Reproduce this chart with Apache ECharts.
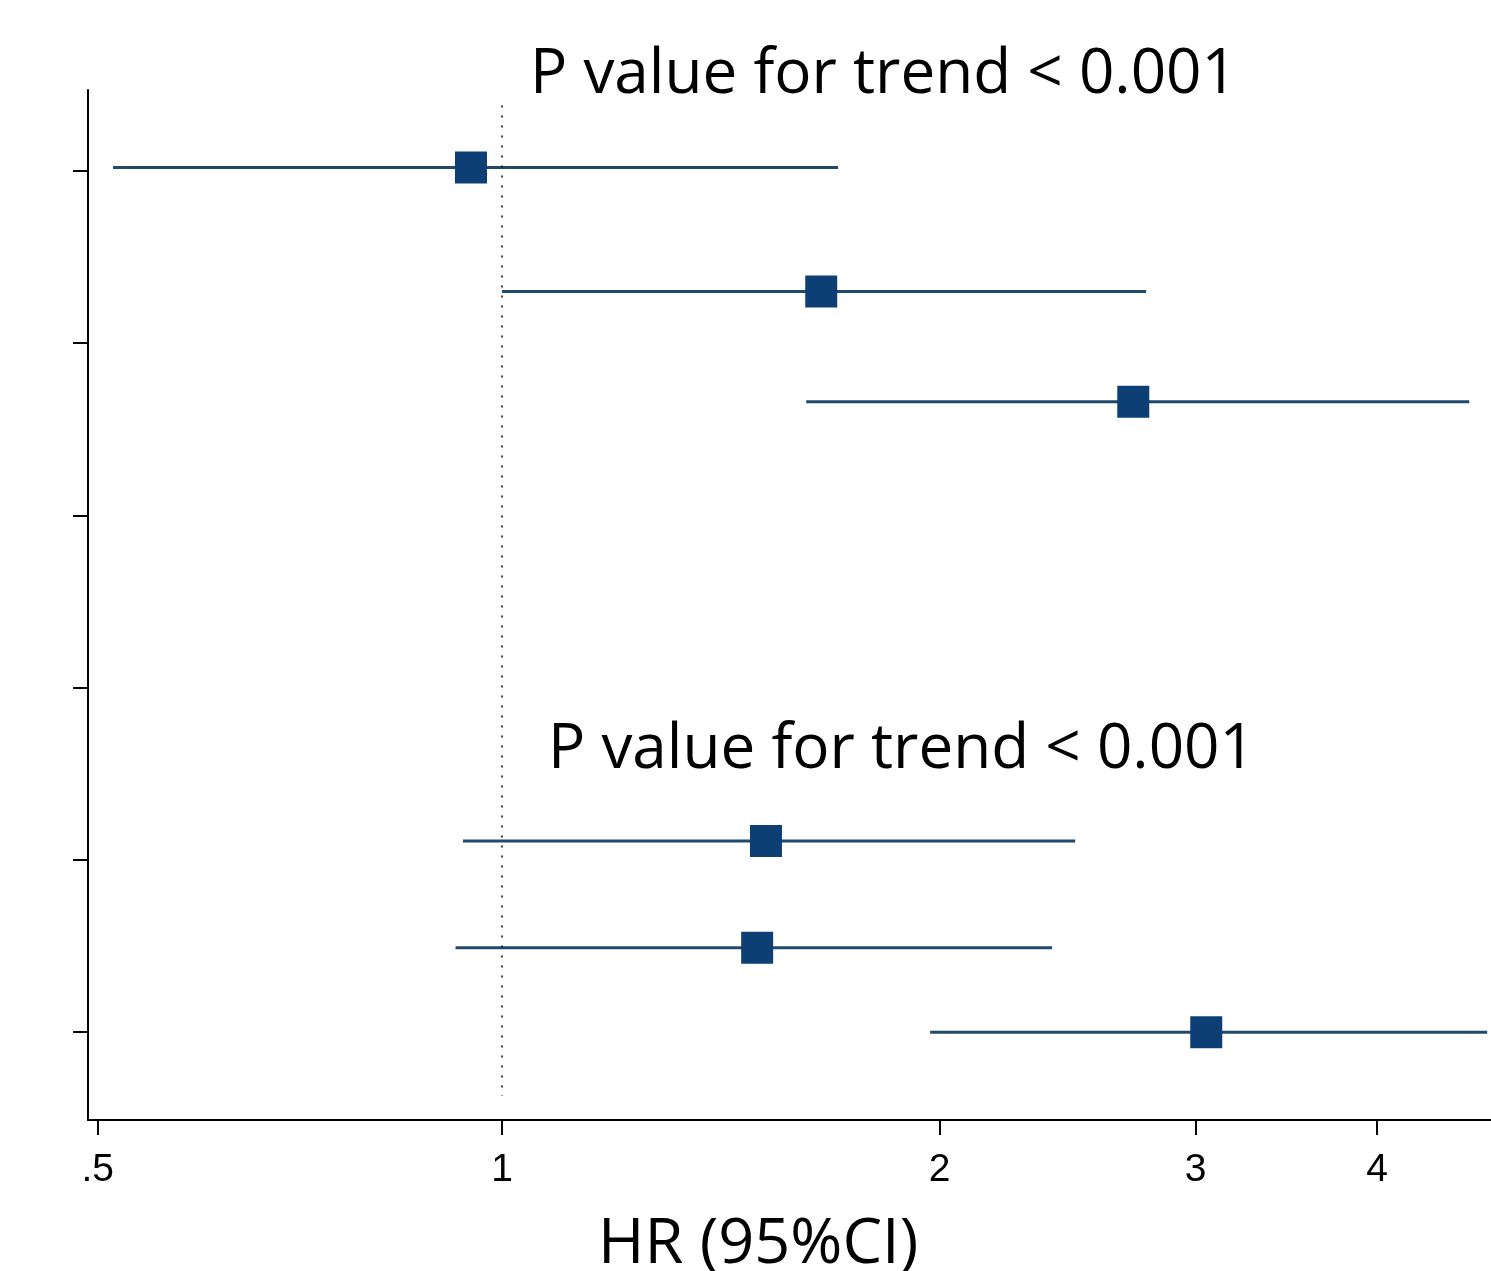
<!DOCTYPE html>
<html>
<head>
<meta charset="utf-8">
<style>html,body{margin:0;padding:0;background:#fff}#chart{width:1491px;height:1271px}</style>
<script src="https://cdn.jsdelivr.net/npm/echarts@6/dist/echarts.min.js"></script>
</head>
<body>
<div id="chart"></div>
<script>
// Row positions (y, top to bottom) and hazard ratios with 95% CI
var rowPos = [0.98, 1.70, 2.34, 4.89, 5.51, 6.00];
var hrEst  = [0.952, 1.658, 2.718, 1.519, 1.498, 3.051];
var ciLow  = [0.540, 1.000, 1.619, 0.940, 0.929, 1.970];
var ciHigh = [1.703, 2.774, 4.628, 2.479, 2.390, 4.761];
// x tick positions and labels
var xTickValues = [0.527, 1, 2, 3, 4];
var xTickLabels = ['.5', '1', '2', '3', '4'];
var yTickValues = [1, 2, 3, 4, 5, 6];
var refLine = [[1, 0.62], [1, 6.37]];
var annotations = ['P value for trend < 0.001', 'P value for trend < 0.001'];
var xTitle = 'HR (95%CI)';

var chart = echarts.init(document.getElementById('chart'), null, {renderer: 'canvas'});
var ciData = rowPos.map(function (y, i) { return [ciLow[i], ciHigh[i], y]; });
var estData = rowPos.map(function (y, i) { return [hrEst[i], y]; });

var option = {
  backgroundColor: '#ffffff',
  animation: false,
  grid: {left: 88, top: 90, right: 0, bottom: 151},
  xAxis: {
    type: 'log', logBase: 2, min: 0.519, max: 4.79,
    axisLine: {show: true, onZero: false, lineStyle: {color: '#000', width: 2}},
    axisTick: {show: true, length: 15, lineStyle: {color: '#000', width: 2}, customValues: xTickValues},
    axisLabel: {
      customValues: xTickValues,
      margin: 31,
      fontFamily: 'Liberation Sans', fontSize: 39, color: '#000',
      formatter: function (v) {
        for (var i = 0; i < xTickValues.length; i++) {
          if (Math.abs(xTickValues[i] - v) < 1e-6) return xTickLabels[i];
        }
        return '';
      }
    },
    splitLine: {show: false}
  },
  yAxis: {
    type: 'value', inverse: true, min: 0.53, max: 6.51,
    axisLine: {show: true, onZero: false, lineStyle: {color: '#000', width: 2}},
    axisTick: {show: true, length: 15, lineStyle: {color: '#000', width: 2}, customValues: yTickValues},
    axisLabel: {show: false},
    splitLine: {show: false}
  },
  series: [
    {
      type: 'line', data: refLine, symbol: 'none', silent: true,
      lineStyle: {color: '#111', width: 1.6, type: [2, 8]}
    },
    {
      type: 'custom', data: ciData, silent: true,
      renderItem: function (params, api) {
        var p1 = api.coord([api.value(0), api.value(2)]);
        var p2 = api.coord([api.value(1), api.value(2)]);
        return {type: 'line', shape: {x1: p1[0], y1: p1[1], x2: p2[0], y2: p2[1]},
                style: {stroke: '#1f4a6e', lineWidth: 3}};
      },
      encode: {x: [0, 1], y: 2}
    },
    {
      type: 'scatter', data: estData, symbol: 'rect', symbolSize: 32,
      itemStyle: {color: '#0d3f75', opacity: 1}, z: 5
    }
  ],
  graphic: [
    {type: 'text', left: 530, top: 44, style: {text: annotations[0], font: '62px "Open Sans"', fill: '#000'}},
    {type: 'text', left: 548, top: 719, style: {text: annotations[1], font: '62px "Open Sans"', fill: '#000'}},
    {type: 'text', left: 598, top: 1214, style: {text: xTitle, font: '63px "Open Sans"', fill: '#000'}}
  ]
};
chart.setOption(option);
</script>
</body>
</html>
